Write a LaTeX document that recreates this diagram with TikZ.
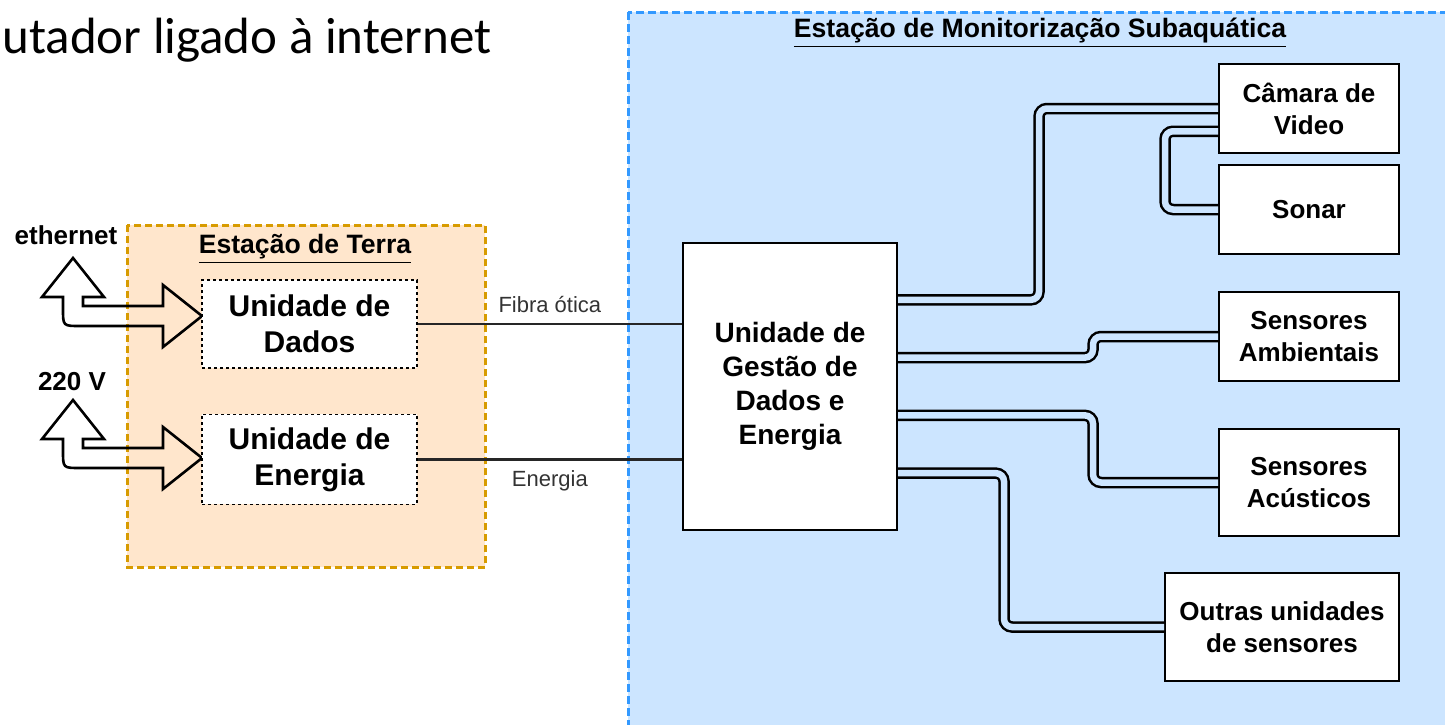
\documentclass[tikz,border=0pt]{standalone}
\usepackage{fontspec}
\setmainfont{Liberation Sans}
\newfontfamily\calibri{Carlito}
\usepackage{tikz}
\usetikzlibrary{positioning,calc}

\definecolor{seafill}{HTML}{CCE5FF}
\definecolor{seaedge}{HTML}{3399FF}
\definecolor{landfill}{HTML}{FFE6CC}
\definecolor{landedge}{HTML}{D79B00}
\definecolor{labelgray}{HTML}{333333}

% bent double arrow: shaft x, top tip y, shaft y, right tip x
\newcommand{\bentarrow}[4]{%
	\draw[big arrow] (#1,#2) -- (#1+31,#2+39) -- (#1+10,#2+39) -- (#1+10,#3-10) -- (#4-39,#3-10) -- (#4-39,#3-31) -- (#4,#3) -- (#4-39,#3+31) -- (#4-39,#3+10) -- (#1+7,#3+10) .. controls (#1-10,#3+10) .. (#1-10,#3-7) -- (#1-10,#2+39) -- (#1-31,#2+39) -- cycle;}

\begin{document}
\begin{tikzpicture}[x=0.5pt,y=-0.5pt,
	unit node/.style={draw,dash pattern=on 1.5pt off 1.5pt,line width=0.7pt,fill=white,align=center,inner sep=0pt,minimum width=107.5pt,font=\bfseries\fontsize{15}{18}\selectfont},
	block node/.style={draw,line width=1pt,fill=white,align=center,inner sep=0pt,minimum width=90pt,minimum height=44.5pt,font=\bfseries\fontsize{13}{16}\selectfont},
	title node/.style={inner sep=0pt,font=\bfseries\fontsize{13.3}{16}\selectfont},
	side node/.style={inner sep=0pt,font=\bfseries\fontsize{13}{16}\selectfont},
	link label/.style={inner sep=0pt,text=labelgray,font=\fontsize{11}{13}\selectfont},
	link/.style={line width=1.3pt,draw=black!85},
	cable/.style={line width=1.25pt,double=seafill,double distance=3.25pt,rounded corners=4pt},
	big arrow/.style={draw,line width=1.3pt,line join=miter}]
				
				\useasboundingbox (0,0) rectangle (1445,724);
				
				% stations
				\draw[seaedge,fill=seafill,line width=1.5pt,dash pattern=on 4pt off 2pt] (628,12) rectangle (1470,750);
				\draw[landedge,fill=landfill,line width=1.5pt,dash pattern=on 3.5pt off 2pt] (127,225) rectangle (485,567);
				
				\node[anchor=base west,inner sep=0pt,font=\calibri\fontsize{25.5}{30}\selectfont] (pc) at (2,53) {utador ligado à internet};
				
				\node[title node] (terra) at (305,249) {\underline{Estação de Terra}};
				\node[title node] (mar) at (1040,33) {\underline{Estação de Monitorização Subaquática}};
				
				\node[side node] (eth) at (66,235) {ethernet};
				\node[side node] (volt) at (72,382) {220 V};
				
				\bentarrow{73}{258}{316}{202}
				\bentarrow{73}{400}{458}{202}
				
				\node[unit node,minimum height=44pt] (dados) at (309.5,324) {Unidade de\\Dados};
				\node[unit node,minimum height=45pt,below=22.5pt of dados] (energia) {Unidade de\\Energia};
				
				\node[block node,minimum width=107pt,minimum height=143.5pt,font=\bfseries\fontsize{14}{17}\selectfont] (ugde) at (790,386.5) {Unidade de\\Gestão de\\Dados e\\Energia};
				
				\node[block node] (camara) at (1309,108.5) {Câmara de\\Video};
				\node[block node,below=5pt of camara] (sonar) {Sonar};
				\node[block node,below=18pt of sonar] (ambient) {Sensores\\Ambientais};
				\node[block node,minimum height=53.5pt,below=23pt of ambient] (acust) {Sensores\\Acústicos};
				\node[block node,minimum width=117pt,minimum height=54pt,below=17.5pt of acust.south east,anchor=north east] (outras) {Outras unidades\\de sensores};
				
				\draw[link] (dados.east) -- node[link label,above=5pt] {Fibra ótica} (dados.east -| ugde.west);
				\draw[link] (energia.east) -- node[link label,below=5pt] {Energia} (energia.east -| ugde.west);
				
				\draw[cable] ($(ugde.north east)!0.2!(ugde.south east)$) -| ($(camara.west)+(-179,0)$) -- (camara.west);
				\draw[cable] ($(camara.north west)!0.75!(camara.south west)$) -| ($(sonar.west)+(-53,0)$) -- (sonar.west);
				\draw[cable] ($(ugde.north east)!0.4!(ugde.south east)$) -| ($(ambient.west)+(-125,0)$) -- (ambient.west);
				\draw[cable] ($(ugde.north east)!0.6!(ugde.south east)$) -| ($(acust.west)+(-125,0)$) -- (acust.west);
				\draw[cable] ($(ugde.north east)!0.8!(ugde.south east)$) -| ($(outras.west)+(-160,0)$) -- (outras.west);
				
				\end{tikzpicture}
\end{document}
